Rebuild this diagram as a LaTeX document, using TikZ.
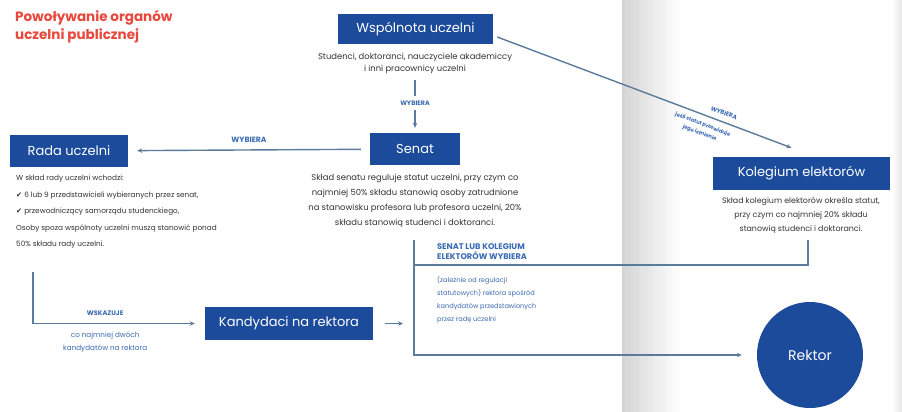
\documentclass[tikz,border=0pt]{standalone}
\usepackage{fontspec}
\setmainfont{Poppins}
\newfontfamily\symfont{DejaVu Sans}
\usetikzlibrary{arrows.meta,calc}
\definecolor{boxblue}{HTML}{1C4B9B}
\definecolor{titlered}{HTML}{E8473C}
\definecolor{labelblue}{HTML}{3B6BB3}
\definecolor{linegrey}{HTML}{5A7B9B}
\definecolor{bodygrey}{HTML}{333333}
\begin{document}
\begin{tikzpicture}[x=1pt,y=-1pt,>={Stealth[length=5pt,width=4.5pt]},
  organ/.style={fill=boxblue,text=white,font=\fontsize{13}{15}\selectfont,inner sep=0pt,minimum height=32pt},
  opis/.style={text=bodygrey,align=center,inner sep=0pt,font=\fontsize{8.4}{#1}\selectfont},
  opis/.default=13,
  etykieta/.style={text=labelblue,font=\fontsize{7.6}{10}\selectfont\bfseries},
  polaczenie/.style={draw=linegrey,line width=1.4pt}]
\useasboundingbox (0,0) rectangle (902,412);
\fill[white] (0,0) rectangle (902,412);
\foreach \i [evaluate=\i as \g using {int(17-\i*17/30)}] in {0,...,29}
  \fill[black!\g] (622+2*\i,0) rectangle (624.4+2*\i,412);
\foreach \i [evaluate=\i as \g using {int(\i)}] in {0,...,9}
  \fill[black!\g] (892+\i,0) rectangle (893.4+\i,412);
\node[anchor=north west,align=left,text=titlered,font=\fontsize{13.5}{18}\selectfont\bfseries,inner sep=0pt] (tytul) at (15,10) {Powoływanie organów\\uczelni publicznej};
\node[organ,minimum width=155pt,minimum height=30pt] (wspolnota) at (415.5,29) {Wspólnota uczelni};
\node[opis=12] (wspolnotaopis) at (415,63) {Studenci, doktoranci, nauczyciele akademiccy\\i inni pracownicy uczelni};
\node[organ,minimum width=90pt] (senat) at (415,149) {Senat};
\node[opis=15] (senatopis) at (415,201) {Skład senatu reguluje statut uczelni, przy czym co\\najmniej 50\% składu stanowią osoby zatrudnione\\na stanowisku profesora lub profesora uczelni, 20\%\\składu stanowią studenci i doktoranci.};
\node[organ,minimum width=118pt] (rada) at (69,151) {Rada uczelni};
\node[opis=16.5,align=left,anchor=north west,font=\fontsize{7.3}{16.5}\selectfont] (radaopis) at (16,175) {W skład rady uczelni wchodzi:\\{\symfont ✔} 6 lub 9 przedstawicieli wybieranych przez senat,\\{\symfont ✔} przewodniczący samorządu studenckiego,\\Osoby spoza wspólnoty uczelni muszą stanowić ponad\\50\% składu rady uczelni.};
\node[organ,minimum width=177pt,minimum height=33pt] (kolegium) at (801.5,173.5) {Kolegium elektorów};
\node[opis=14,font=\fontsize{7.9}{14}\selectfont] (kolegiumopis) at (801,215) {Skład kolegium elektorów określa statut,\\przy czym co najmniej 20\% składu\\stanowią studenci i doktoranci.};
\node[organ,minimum width=168pt,minimum height=33pt] (kandydaci) at (289,323.5) {Kandydaci na rektora};
\node[circle,fill=boxblue,text=white,font=\fontsize{14}{16}\selectfont,minimum size=106pt,inner sep=0pt] (rektor) at (810,355) {Rektor};
\node[etykieta,align=left,anchor=south west,inner sep=0pt,font=\fontsize{8.2}{10.5}\selectfont\bfseries] (wybor) at (437,260) {SENAT LUB KOLEGIUM\\ELEKTORÓW WYBIERA};
\node[opis=13,align=left,anchor=north west,text=labelblue,font=\fontsize{6.6}{13}\selectfont] (regulacja) at (437,276) {(zależnie od regulacji\\statutowych) rektora spośród\\kandydatów przedstawionych\\przez radę uczelni};
\coordinate (radastart) at (33,272);
\coordinate (senatdol) at (414,240);
\coordinate (kolegiumdol) at (808,240);
\coordinate (zbieg) at (414,265);
\draw[polaczenie,->,shorten <=7pt,shorten >=5pt] (wspolnotaopis) -- node[fill=white,inner xsep=2pt,inner ysep=5pt,etykieta,font=\fontsize{6.4}{8}\selectfont\bfseries] {WYBIERA} (senat);
\draw[polaczenie,->,shorten <=9pt,shorten >=9pt] (senat) -- node[above=3pt,etykieta] {WYBIERA} (rada);
\draw[polaczenie,->] ($(wspolnota.east)+(4,8)$) -- node[pos=0.76,sloped,anchor=south,inner sep=6pt,etykieta,font=\fontsize{6}{8}\selectfont\bfseries] {WYBIERA} node[pos=0.71,sloped,anchor=north,inner sep=6pt,etykieta,align=center,font=\fontsize{5.2}{9}\selectfont\bfseries] {jeśli statut przewiduje\\jego istnienie} ($(kolegium.north)+(-10,-9)$);
\draw[polaczenie,->,shorten >=10pt] (radastart) |- node[pos=0.71,above=4pt,etykieta,font=\fontsize{6.6}{8}\selectfont\bfseries] {WSKAZUJE} node[pos=0.71,below=4pt,align=center,text=labelblue,font=\fontsize{7.2}{13}\selectfont] {co najmniej dwóch\\kandydatów na rektora} (kandydaci);
\draw[polaczenie,->,shorten <=12pt,shorten >=11pt] (kandydaci.east) -- (kandydaci.east -| senatdol);
\draw[polaczenie,->,shorten >=15pt] (senatdol) |- (rektor);
\draw[polaczenie] (kolegiumdol) |- (zbieg);
\end{tikzpicture}
\end{document}
